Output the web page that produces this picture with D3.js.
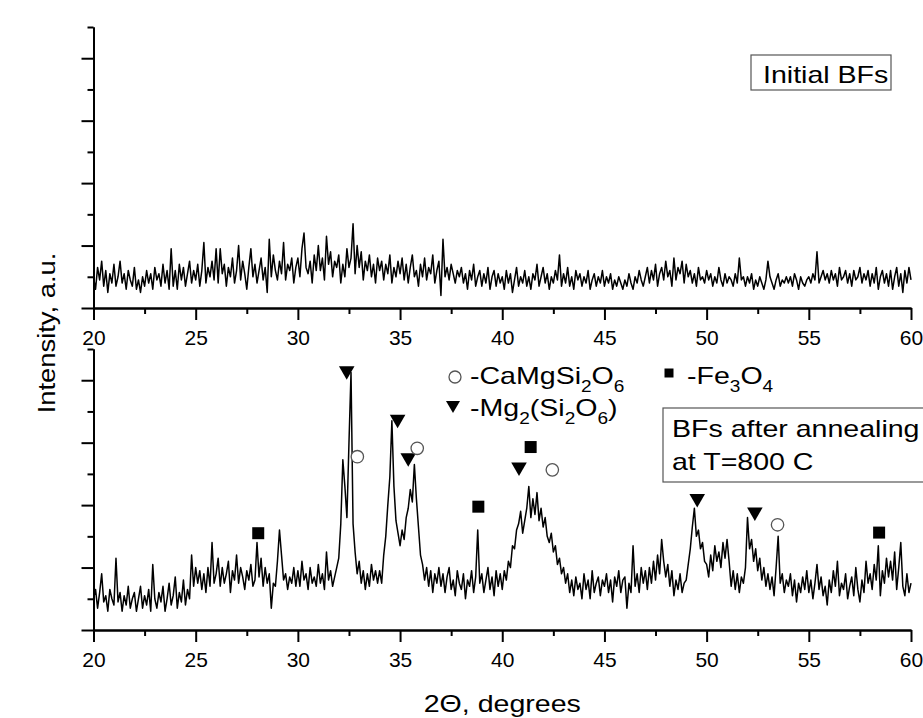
<!DOCTYPE html>
<html>
<head>
<meta charset="utf-8">
<script src="https://cdnjs.cloudflare.com/ajax/libs/d3/7.8.5/d3.min.js"></script>
<style>
  body { margin: 0; background: #fff; }
  svg { display: block; font-family: "Liberation Sans", Arial, sans-serif; }
</style>
</head>
<body>
<script>
// ======================= DATA =================================
// intensities, one value every 0.1 deg from 20 to 60
const thetaStart = 20
const thetaStep = 0.1

const initialIntensity = [
    1.0, 0.6, 1.3, 0.9, 1.5, 0.7, 1.2, 0.5, 1.1, 0.8,
    1.4, 0.7, 1.0, 1.5, 0.8, 1.1, 0.6, 1.2, 0.9, 0.7,
    1.3, 0.6, 0.9, 0.5, 1.0, 0.7, 1.2, 0.8, 1.1, 0.6,
    1.3, 0.9, 1.1, 0.7, 1.4, 0.8, 1.2, 0.6, 1.9, 0.7,
    1.2, 0.6, 1.4, 0.9, 1.3, 0.7, 1.1, 1.5, 0.8, 1.2,
    0.9, 1.4, 0.7, 1.2, 2.1, 0.8, 1.3, 1.0, 1.5, 0.9,
    1.9, 0.8, 1.9, 1.1, 1.4, 0.7, 1.3, 1.0, 1.6, 0.8,
    1.2, 2.0, 0.9, 1.5, 1.1, 0.6, 1.3, 1.9, 1.0, 1.4,
    0.8, 1.2, 1.6, 0.9, 1.3, 0.5, 2.2, 1.0, 1.7, 1.2,
    0.9, 1.5, 1.1, 2.1, 0.9, 1.4, 1.2, 1.6, 0.8, 1.3,
    1.6, 1.0, 1.9, 2.4, 1.3, 1.1, 1.5, 0.8, 1.7, 1.2,
    2.0, 1.2, 1.6, 0.9, 2.3, 1.4, 1.8, 1.0, 1.5, 1.3,
    1.7, 0.8, 1.4, 1.0, 1.9, 1.3, 1.6, 2.7, 1.1, 2.0,
    1.3, 1.8, 0.9, 1.5, 1.2, 1.7, 1.0, 1.4, 0.8, 1.6,
    1.2, 1.5, 0.9, 1.4, 1.1, 1.7, 0.8, 1.3, 1.0, 1.5,
    1.1, 1.6, 0.9, 1.4, 0.8, 1.3, 1.7, 1.0, 1.2, 0.7,
    1.4, 1.0, 1.6, 0.9, 1.3, 1.1, 1.7, 0.8, 1.2, 1.5,
    0.4, 2.2, 1.0, 1.3, 0.9, 1.4, 1.1, 0.8, 1.2, 1.0,
    1.3, 0.8, 1.1, 0.6, 1.2, 0.9, 1.4, 0.7, 1.0, 1.2,
    0.7, 1.1, 0.8, 1.3, 0.6, 1.0, 1.2, 0.7, 1.1, 0.8,
    1.0, 0.6, 1.2, 0.8, 1.1, 0.5, 0.9, 1.3, 0.7, 1.0,
    0.8, 1.2, 0.7, 1.0, 0.6, 1.1, 0.9, 1.4, 0.7, 1.0,
    1.3, 0.8, 1.1, 0.6, 1.0, 0.8, 1.2, 0.9, 1.7, 0.7,
    1.1, 0.8, 1.3, 0.7, 1.0, 0.6, 1.2, 0.9, 1.1, 0.7,
    1.0, 0.8, 1.2, 0.6, 0.9, 1.1, 0.7, 1.0, 0.8, 1.2,
    0.7, 1.0, 0.8, 1.1, 0.6, 0.9, 0.7, 1.0, 0.8, 0.6,
    0.9, 0.7, 1.1, 0.8, 0.6, 1.0, 0.8, 1.2, 0.9, 0.7,
    1.0, 1.3, 0.8, 1.2, 0.9, 1.4, 0.7, 1.1, 1.3, 0.9,
    1.5, 1.0, 1.2, 0.7, 1.6, 0.9, 1.3, 1.1, 1.5, 0.8,
    1.4, 1.0, 1.2, 0.8, 1.1, 0.7, 1.3, 0.9, 1.0, 0.8,
    1.2, 0.9, 1.1, 0.7, 1.0, 0.8, 1.3, 0.9, 0.7, 1.1,
    0.8, 1.0, 0.9, 0.7, 1.1, 0.8, 1.6, 0.9, 1.0, 0.7,
    1.0, 0.8, 1.1, 0.6, 0.9, 0.7, 1.0, 0.8, 0.6, 0.9,
    1.5, 1.0, 0.8, 0.6, 0.9, 1.1, 0.7, 0.9, 0.8, 1.0,
    0.8, 1.0, 0.7, 1.1, 0.9, 0.6, 1.0, 0.8, 0.7, 0.9,
    1.0, 0.8, 1.1, 0.9, 1.8, 0.8, 1.0, 1.2, 0.9, 1.1,
    0.8, 1.2, 0.9, 1.1, 0.7, 1.3, 0.9, 1.0, 1.2, 0.8,
    1.1, 0.7, 1.2, 0.9, 1.0, 1.3, 0.8, 1.1, 0.9, 1.2,
    0.7, 1.1, 0.8, 1.3, 0.6, 1.0, 1.2, 0.8, 1.1, 0.7,
    1.2, 0.6, 1.0, 1.3, 0.7, 1.1, 0.5, 1.2, 0.8, 1.3,
    0.9
]

const annealedIntensity = [
    1.0, 1.3, 0.7, 1.2, 1.8, 0.9, 1.1, 0.6, 1.3, 1.0,
    0.8, 2.3, 0.9, 1.2, 0.6, 1.1, 0.8, 1.4, 0.7, 1.0,
    1.2, 0.6, 1.0, 1.4, 0.7, 1.1, 0.8, 1.3, 0.6, 2.1,
    1.0, 0.7, 1.2, 0.9, 1.4, 0.6, 1.0, 1.5, 0.8, 1.1,
    1.7, 0.7, 1.2, 0.9, 1.6, 0.8, 1.3, 1.0, 2.4, 1.4,
    2.0, 1.5, 1.9, 1.3, 1.8, 1.2, 2.0, 1.4, 2.8, 1.5,
    1.8, 2.3, 1.4, 2.0, 1.5, 1.8, 2.2, 1.2, 1.9, 1.6,
    2.4, 1.5, 2.0, 1.7, 1.3, 1.9, 1.6, 2.1, 1.4, 1.6,
    2.8, 1.7, 2.3, 1.4, 2.0, 1.5, 1.8, 0.7, 1.5, 1.4,
    2.2, 3.2, 2.4, 1.6, 1.8, 1.3, 1.7, 1.5, 2.0, 1.4,
    1.9, 1.4, 2.2, 1.6, 1.8, 1.3, 2.0, 1.5, 1.7, 1.4,
    2.1, 1.5, 1.8, 1.3, 2.5, 1.6, 1.9, 1.4, 1.7, 2.0,
    2.3, 3.4, 5.45, 4.6, 3.6, 6.0, 8.25, 3.4, 2.5, 1.8,
    2.2, 1.5, 1.9, 1.3, 1.8, 1.4, 2.1, 1.6, 1.9, 1.5,
    1.9, 1.5, 2.4, 3.0, 4.0, 4.9, 6.7, 4.6, 3.5, 3.1,
    2.7, 3.2, 2.9, 3.6, 3.9, 4.5, 4.1, 5.3, 4.2, 3.3,
    2.4, 2.1, 1.6, 2.0, 1.4, 1.9, 1.2, 1.8, 1.5, 2.0,
    1.4, 1.8, 1.2, 1.7, 2.0, 1.3, 1.6, 1.1, 1.9, 1.5,
    1.3, 1.8, 1.0, 1.6, 1.4, 1.9, 1.2, 1.7, 3.2, 1.5,
    1.8, 1.2, 1.6, 2.0, 1.3, 1.7, 1.1, 1.9, 1.4, 1.8,
    1.3, 1.9, 1.6, 2.2, 2.0, 2.7, 2.6, 3.2, 3.4, 3.8,
    3.1, 3.5, 3.9, 4.6, 3.6, 4.2, 3.7, 4.4, 3.5, 3.9,
    3.3, 3.6, 3.0, 2.8, 3.1, 2.5, 2.7, 2.1, 2.3, 1.8,
    2.0, 1.5, 1.8, 1.2, 1.6, 1.1, 1.7, 1.3, 1.5, 1.0,
    1.8, 1.3, 1.6, 1.0, 1.9, 1.2, 1.5, 1.7, 1.1, 1.6,
    1.4, 1.8, 1.2, 1.6, 0.9, 1.7, 1.4, 1.9, 1.2, 1.6,
    1.7, 0.7, 1.5, 1.2, 2.7, 1.4, 1.8, 1.2, 2.0, 1.5,
    1.9, 1.3, 2.0, 1.5, 2.2, 1.6, 2.4, 1.8, 2.9, 2.2,
    1.7, 2.1, 1.4, 1.9, 1.1, 1.6, 1.3, 1.8, 1.2, 1.5,
    1.6, 2.1, 2.6, 3.3, 3.9, 3.0, 3.2, 2.6, 2.8, 2.2,
    2.1, 1.7, 2.4, 1.9, 2.7, 2.2, 2.5, 2.0, 2.8, 2.3,
    2.9, 2.2, 1.4, 1.9, 1.3, 1.8, 1.2, 1.7, 1.5, 2.0,
    3.6, 2.6, 2.9, 2.2, 2.6, 1.9, 2.3, 1.6, 2.0, 1.4,
    1.8, 1.3, 1.7, 1.1, 2.0, 3.0, 1.5, 1.8, 1.2, 1.6,
    1.4, 1.8, 1.1, 1.6, 0.9, 1.5, 1.2, 1.7, 1.3, 1.9,
    1.2, 1.6, 1.0, 1.5, 2.1, 1.3, 1.7, 1.1, 1.4, 0.8,
    1.6, 1.2, 1.9, 1.4, 2.2, 1.1, 1.5, 1.3, 1.8, 1.0,
    1.4, 1.7, 1.1, 2.0, 1.3, 0.9, 1.6, 1.2, 2.2, 1.5,
    1.8, 1.3, 2.1, 1.6, 2.7, 1.1, 1.9, 1.5, 2.3, 1.7,
    2.2, 1.6, 2.5, 1.3, 2.0, 2.8, 1.4, 1.1, 1.8, 1.2,
    1.5
]

// phase marks: position (deg) and the level they sit at
const fe3o4Theta = [28.06, 38.83, 41.39, 58.44]
const fe3o4Level = [3.10, 3.95, 5.86, 3.12]
const mg2Theta = [32.39, 34.88, 35.40, 40.82, 49.54, 52.36]
const mg2Level = [8.23, 6.68, 5.45, 5.15, 4.14, 3.71]
const caMgTheta = [32.91, 35.84, 42.45, 53.47]
const caMgLevel = [5.55, 5.82, 5.13, 3.37]

const xMajorTicks = [20, 25, 30, 35, 40, 45, 50, 55, 60]
const xMinorTicks = [22.5, 27.5, 32.5, 37.5, 42.5, 47.5, 52.5, 57.5]
const yMajorTicks = [0, 2, 4, 6, 8]
const yMinorTicks = [1, 3, 5, 7, 9]

// ======================= LAYOUT ===============================
const width = 923,
    height = 718
const plotLeft = 93.5,
    plotRight = 911
const topPanel = { top: 27, bottom: 308 }
const bottomPanel = { top: 349, bottom: 630 }
const stretch = 1.19

const svg = d3.select('body').append('svg')
    .attr('width', width)
    .attr('height', height)

const x = d3.scaleLinear()
    .domain([20, 60])
    .range([plotLeft, plotRight])

function styleAxis(g) {
    g.selectAll('path, line').attr('stroke', '#000').attr('stroke-width', 2)
    g.selectAll('text')
        .attr('font-size', 20)
        .attr('font-family', '"Liberation Sans", Arial, sans-serif')
        .attr('fill', '#000')
        .attr('transform', 'scale(1.05,1)')
}

function drawPanel(panel, values) {
    const y = d3.scaleLinear()
        .domain([0, 9])
        .range([panel.bottom, panel.top])

    svg.append('g')
        .attr('transform', 'translate(0,' + panel.bottom + ')')
        .call(d3.axisBottom(x).tickValues(xMinorTicks).tickSize(6).tickSizeOuter(0).tickFormat(''))
        .call(styleAxis)
    svg.append('g')
        .attr('transform', 'translate(0,' + panel.bottom + ')')
        .call(d3.axisBottom(x).tickValues(xMajorTicks).tickSize(12).tickSizeOuter(0).tickPadding(11))
        .call(styleAxis)
    svg.append('g')
        .attr('transform', 'translate(' + plotLeft + ',0)')
        .call(d3.axisLeft(y).tickValues(yMinorTicks).tickSize(6).tickSizeOuter(0).tickFormat(''))
        .call(styleAxis)
    svg.append('g')
        .attr('transform', 'translate(' + plotLeft + ',0)')
        .call(d3.axisLeft(y).tickValues(yMajorTicks).tickSize(12).tickSizeOuter(0).tickFormat(''))
        .call(styleAxis)

    const line = d3.line()
        .x((d, i) => x(thetaStart + i * thetaStep))
        .y(d => y(d))

    svg.append('path')
        .datum(values)
        .attr('fill', 'none')
        .attr('stroke', '#000')
        .attr('stroke-width', 1.5)
        .attr('stroke-linejoin', 'round')
        .attr('d', line)

    return y
}

drawPanel(topPanel, initialIntensity)
const yAnnealed = drawPanel(bottomPanel, annealedIntensity)

// ======================= MARKS ================================
const triangle = d3.symbol().type(d3.symbolTriangle)
const square = d3.symbol().type(d3.symbolSquare)

svg.append('g').selectAll('path')
    .data(d3.zip(mg2Theta, mg2Level))
    .enter().append('path')
    .attr('d', triangle.size(105)())
    .attr('fill', '#000')
    .attr('transform', d => 'translate(' + x(d[0]) + ',' + (yAnnealed(d[1]) - 2.2) + ') rotate(180)')

svg.append('g').selectAll('path')
    .data(d3.zip(fe3o4Theta, fe3o4Level))
    .enter().append('path')
    .attr('d', square.size(144)())
    .attr('fill', '#000')
    .attr('transform', d => 'translate(' + x(d[0]) + ',' + yAnnealed(d[1]) + ')')

svg.append('g').selectAll('circle')
    .data(d3.zip(caMgTheta, caMgLevel))
    .enter().append('circle')
    .attr('cx', d => x(d[0]))
    .attr('cy', d => yAnnealed(d[1]))
    .attr('r', 6.2)
    .attr('fill', '#fff')
    .attr('stroke', '#555')
    .attr('stroke-width', 1.3)

// ======================= TEXT =================================
function richText(px, py, parts, size) {
    const t = svg.append('text')
        .attr('transform', 'translate(' + px + ',' + py + ') scale(' + stretch + ',1)')
        .attr('font-size', size)
        .attr('fill', '#000')
    let shift = 0
    parts.forEach(p => {
        const want = p[1] ? 8 : 0
        t.append('tspan')
            .attr('dy', want - shift)
            .attr('font-size', p[1] ? 16 : size)
            .text(p[0])
        shift = want
    })
    return t
}

// legend
svg.append('circle')
    .attr('cx', 455).attr('cy', 377).attr('r', 6)
    .attr('fill', '#fff').attr('stroke', '#555').attr('stroke-width', 1.3)
richText(470, 384, [['-CaMgSi', 0], ['2', 1], ['O', 0], ['6', 1]], 24)

svg.append('path')
    .attr('d', triangle.size(85)())
    .attr('fill', '#000')
    .attr('transform', 'translate(453,405) rotate(180)')
richText(470, 416, [['-Mg', 0], ['2', 1], ['(Si', 0], ['2', 1], ['O', 0], ['6', 1], [')', 0]], 24)

svg.append('path')
    .attr('d', square.size(81)())
    .attr('fill', '#000')
    .attr('transform', 'translate(669,373)')
richText(687, 384, [['-Fe', 0], ['3', 1], ['O', 0], ['4', 1]], 24)

// labels in boxes
svg.append('rect')
    .attr('x', 751).attr('y', 55).attr('width', 140).attr('height', 35)
    .attr('fill', 'none').attr('stroke', '#555').attr('stroke-width', 1.2)
richText(763, 83, [['Initial BFs', 0]], 24)

svg.append('rect')
    .attr('x', 663).attr('y', 408).attr('width', 280).attr('height', 74)
    .attr('fill', 'none').attr('stroke', '#555').attr('stroke-width', 1.2)
richText(672, 437, [['BFs after annealing', 0]], 24)
richText(672, 470, [['at T=800 C', 0]], 24)

// axis titles
richText((plotLeft + plotRight) / 2, 712, [['2\u0398, degrees', 0]], 24)
    .attr('text-anchor', 'middle')

svg.append('text')
    .attr('transform', 'translate(55,333) rotate(-90) scale(1.14,1)')
    .attr('text-anchor', 'middle')
    .attr('font-size', 24)
    .attr('fill', '#000')
    .text('Intensity, a.u.')
</script>
</body>
</html>
